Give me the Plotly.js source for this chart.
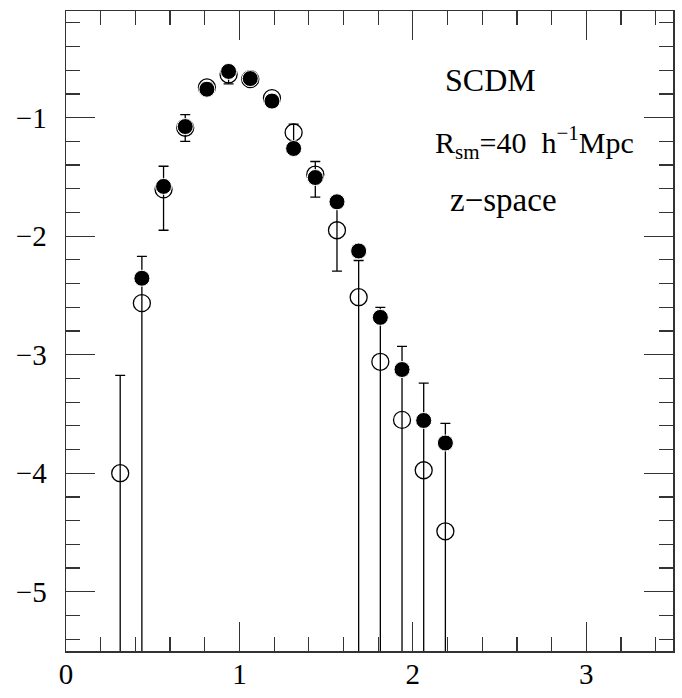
<!DOCTYPE html>
<html>
<head>
<meta charset="utf-8">
<script src="https://cdn.plot.ly/plotly-3.0.1.min.js"></script>
<style>html,body{margin:0;padding:0;background:#fff;}#chart{width:682px;height:698px;}</style>
</head>
<body>
<div id="chart"></div>
<script>
// x positions, shared by both series
const xVals = [0.3125, 0.4375, 0.5625, 0.6875, 0.8125, 0.9375, 1.0625, 1.1875,
               1.3125, 1.4375, 1.5625, 1.6875, 1.8125, 1.9375, 2.0625, 2.1875];
// filled circles
const yFilled = [null, -2.355, -1.58, -1.075, -0.76, -0.61, -0.67, -0.86,
                 -1.26, -1.505, -1.71, -2.125, -2.685, -3.125, -3.555, -3.745];
// open circles
const yOpen = [-4.0, -2.565, -1.605, -1.085, -0.745, -0.635, -0.675, -0.835,
               -1.125, -1.48, -1.95, -2.515, -3.06, -3.55, -3.975, -4.49];
// error bars of open circles (upper / lower extent; 9 = runs off the bottom)
const errUp   = [0.825, 0.395, 0.195, 0.11, 0.04, 0.04, 0.04, 0.03,
                 0.07, 0.11, 0.19, 0.31, 0.46, 0.62, 0.735, 0.91];
const errDown = [9, 9, 0.345, 0.115, 0.04, 0.08, 0.04, 0.03,
                 0.10, 0.19, 0.345, 9, 9, 9, 9, 9];
const xTicks = [0, 1, 2, 3];
const yTicks = [-5, -4, -3, -2, -1];

const FONT = "Liberation Serif, DejaVu Serif, serif";

const traces = [
  {
    x: xVals, y: yOpen, type: 'scatter', mode: 'markers',
    marker: {symbol: 'circle-open', size: 17, color: '#000', line: {width: 1.3, color: '#000'}},
    error_y: {type: 'data', symmetric: false, array: errUp, arrayminus: errDown,
              color: '#000', thickness: 1.3, width: 5},
    hoverinfo: 'skip', showlegend: false
  },
  {
    x: xVals, y: yFilled, type: 'scatter', mode: 'markers',
    marker: {symbol: 'circle', size: 16, color: '#000', line: {width: 1, color: '#fff'}},
    hoverinfo: 'skip', showlegend: false
  }
];

const axisCommon = {
  showline: true, linecolor: '#333', linewidth: 1.5, mirror: 'ticks',
  ticks: 'inside', ticklen: 29, tickwidth: 1.2, tickcolor: '#333',
  showgrid: false, zeroline: false, tickmode: 'array',
  tickfont: {family: FONT, size: 29, color: '#000'},
  minor: {dtick: 0.2, ticks: 'inside', ticklen: 14, tickwidth: 1.2, tickcolor: '#333', showgrid: false}
};

const layout = {
  width: 682, height: 698,
  margin: {l: 66, r: 9, t: 11, b: 47},
  paper_bgcolor: '#fff', plot_bgcolor: '#fff',
  xaxis: Object.assign({}, axisCommon, {range: [0, 3.5], tickvals: xTicks, ticktext: xTicks.map(String), ticklabelstandoff: -3, minor: Object.assign({}, axisCommon.minor, {tick0: 0})}),
  yaxis: Object.assign({}, axisCommon, {range: [-5.5, -0.1], tickvals: yTicks, ticktext: yTicks.map(v => '\u2212' + Math.abs(v)), ticklabelstandoff: 12, minor: Object.assign({}, axisCommon.minor, {tick0: -5})}),
  annotations: [
    {xref: 'paper', yref: 'paper', x: 0.70, y: 0.892, xanchor: 'center', yanchor: 'middle',
     text: 'SCDM', showarrow: false, font: {family: FONT, size: 32, color: '#000'}},
    {xref: 'paper', yref: 'paper', x: 0.772, y: 0.795, xanchor: 'center', yanchor: 'middle',
     text: 'R<sub>sm</sub>=40  h<sup>\u22121</sup>Mpc', showarrow: false, font: {family: FONT, size: 30, color: '#000'}},
    {xref: 'paper', yref: 'paper', x: 0.72, y: 0.705, xanchor: 'center', yanchor: 'middle',
     text: 'z\u2212space', showarrow: false, font: {family: FONT, size: 33, color: '#000'}}
  ]
};

Plotly.newPlot('chart', traces, layout, {displayModeBar: false, staticPlot: true});
</script>
</body>
</html>
